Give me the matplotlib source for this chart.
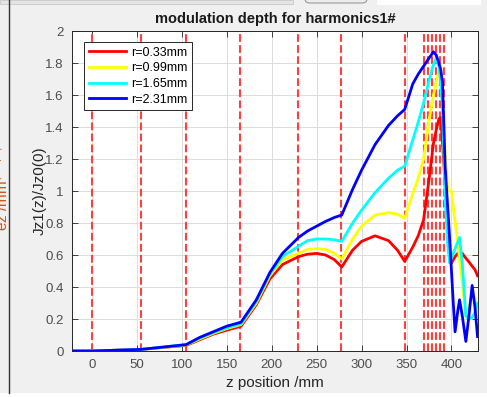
import matplotlib.pyplot as plt
import matplotlib.patches as mpatches
from matplotlib.lines import Line2D

# z positions (mm) sampled along the curves
z = [-22, 0, 55, 105, 120, 135, 150, 166, 183, 198, 212, 230, 240, 250, 260, 270, 278,
     290, 300, 315, 330, 340, 348, 357, 363, 369, 375, 380, 383, 386, 388, 390, 393,
     396, 398, 400, 402, 404, 407, 409, 412, 416, 419, 423, 426, 429]

r033 = [0, 0.0, 0.01, 0.035, 0.07, 0.105, 0.13, 0.155, 0.29, 0.45, 0.54, 0.59, 0.605, 0.61, 0.60, 0.57, 0.525,
        0.63, 0.685, 0.72, 0.69, 0.63, 0.56, 0.65, 0.72, 0.82, 1.07, 1.30, 1.38, 1.45, 1.46, 1.30, 1.05,
        0.76, 0.58, 0.55, 0.57, 0.59, 0.61, 0.62, 0.61, 0.58, 0.56, 0.53, 0.51, 0.47]
r099 = [0, 0.0, 0.01, 0.038, 0.075, 0.11, 0.14, 0.165, 0.30, 0.47, 0.57, 0.61, 0.635, 0.64, 0.635, 0.61, 0.575,
        0.70, 0.78, 0.85, 0.865, 0.855, 0.83, 0.985, 1.08, 1.20, 1.44, 1.60, 1.68, 1.75, 1.72, 1.55, 1.25,
        1.00, 1.00, 1.00, 0.90, 0.81, 0.68, 0.57, 0.43, 0.21, 0.25, 0.37, 0.32, 0.22]
r165 = [0, 0.0, 0.01, 0.04, 0.08, 0.115, 0.145, 0.17, 0.31, 0.48, 0.59, 0.655, 0.69, 0.70, 0.70, 0.695, 0.685,
        0.80, 0.88, 0.99, 1.08, 1.13, 1.155, 1.32, 1.43, 1.55, 1.69, 1.79, 1.83, 1.78, 1.68, 1.53, 0.95,
        0.65, 0.55, 0.58, 0.61, 0.64, 0.68, 0.71, 0.55, 0.22, 0.20, 0.21, 0.24, 0.30]
r231 = [0, 0.0, 0.01, 0.04, 0.085, 0.12, 0.155, 0.18, 0.32, 0.49, 0.61, 0.71, 0.75, 0.78, 0.81, 0.835, 0.85,
        1.01, 1.13, 1.29, 1.41, 1.47, 1.51, 1.67, 1.73, 1.78, 1.83, 1.87, 1.85, 1.80, 1.76, 1.68, 1.15,
        0.88, 0.70, 0.50, 0.30, 0.12, 0.25, 0.32, 0.22, 0.06, 0.20, 0.41, 0.28, 0.09]

labels = ['r=0.33mm', 'r=0.99mm', 'r=1.65mm', 'r=2.31mm']
colors = ['#ff0000', '#ffff00', '#00ffff', '#0000ff']

# element boundaries (dashed lines)
z_marks = [0, 54.5, 105, 165, 229.5, 277.5, 348, 369.5, 374, 378.5, 383, 387.5, 392]

W, H = 487, 397
fig = plt.figure(figsize=(W / 100, H / 100), dpi=100)
fig.patch.set_facecolor('#f0f0f0')
plt.rcParams['font.family'] = ['Liberation Sans', 'DejaVu Sans']

ax = fig.add_axes([72 / W, 1 - 351 / H, 406 / W, 320 / H])

for zm in z_marks:
    ax.axvline(zm, color='#ff4040', ls='--', lw=1.5, zorder=1)

for ys, c, lab in zip([r033, r099, r165, r231], colors, labels):
    ax.plot(z, ys, color=c, lw=2, label=lab, zorder=2)

ax.set_xlim(-22, 429.5)
ax.set_ylim(0, 2)
ax.set_xticks(range(0, 401, 50))
yt = [i / 5 for i in range(11)]
ax.set_yticks(yt)
ax.set_yticklabels([f'{v:g}' for v in yt])
ax.grid(True, color='#dcdcdc', lw=0.7)
ax.set_axisbelow(True)
ax.tick_params(direction='in', top=True, right=True, length=4, width=0.6,
               colors='#262626', labelcolor='#4d4d4d', labelsize=9.5, pad=6)
for s in ax.spines.values():
    s.set_color('#262626')
    s.set_linewidth(0.7)

ax.set_title('modulation depth for harmonics1#', fontsize=10.5, fontweight='bold',
             color='#1a1a1a', pad=6)
ax.set_xlabel('z position /mm', fontsize=11, color='#262626', labelpad=3)
ax.set_ylabel('Jz1(z)/Jz0(0)', fontsize=11, color='#262626', labelpad=-1)

leg = ax.legend(loc='upper left', bbox_to_anchor=(0.03, 0.965), fontsize=9,
                frameon=True, fancybox=False, framealpha=1, edgecolor='#262626',
                handlelength=3.0, handletextpad=0.4, borderpad=0.35, labelspacing=0.3,
                borderaxespad=0)
leg.get_frame().set_linewidth(0.7)

# window chrome around the axes
fig.add_artist(mpatches.Rectangle((0, 1 - 4 / H), 293 / W, 4 / H, transform=fig.transFigure,
                                  facecolor='#e4e4e4', edgecolor='#c8c8c8', lw=0.6))
fig.add_artist(mpatches.FancyBboxPatch((305 / W, 1 - 3 / H), 62 / W, 8 / H,
                                       boxstyle='round,pad=0,rounding_size=0.01',
                                       transform=fig.transFigure, facecolor='#ececec',
                                       edgecolor='#9a9a9a', lw=0.8))
fig.add_artist(mpatches.Rectangle((377 / W, 1 - 5 / H), 104 / W, 5 / H, transform=fig.transFigure,
                                  facecolor='white', edgecolor='none'))
fig.add_artist(mpatches.Rectangle((0, 0), 1, 4 / H, transform=fig.transFigure,
                                  facecolor='white', edgecolor='none'))
fig.add_artist(Line2D([8.5 / W, 8.5 / W], [4 / H, 1], transform=fig.transFigure,
                      color='#333333', lw=1))
# neighbouring axis label, cut by the window edge as in the screenshot
fig.text(1.5 / W, 1 - 188 / H, 'ez /mm$^{(-1/2)}$', rotation=90, ha='center', va='center',
         color='#d95319', fontsize=11)

fig.savefig('out.png', dpi=100, facecolor=fig.get_facecolor())
